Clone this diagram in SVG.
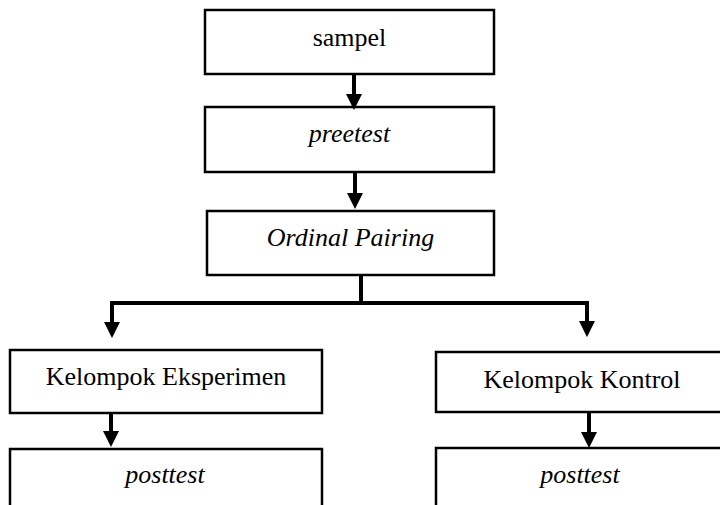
<svg xmlns="http://www.w3.org/2000/svg" width="720" height="505" viewBox="0 0 720 505">
  <defs>
    <style>
      .box { fill: #ffffff; stroke: #000000; stroke-width: 2.5; }
      .lbl { font-family: "Liberation Serif", "Times New Roman", serif; font-size: 26px; fill: #000000; text-anchor: middle; }
      .it { font-style: italic; }
      .wire { fill: none; stroke: #000000; stroke-width: 4; }
    </style>
    <!-- arrowhead: base sits at the line end, tip points onward -->
    <marker id="head" viewBox="0 0 16 16" refX="0" refY="8" markerWidth="16" markerHeight="16" markerUnits="userSpaceOnUse" orient="auto">
      <path d="M0,0 L16,8 L0,16 Z" fill="#000000"/>
    </marker>
  </defs>
  <rect width="720" height="505" fill="#ffffff"/>

  <g id="sampel">
    <rect class="box" x="205" y="10" width="289" height="64"/>
    <text class="lbl" x="349.5" y="46">sampel</text>
  </g>

  <g id="preetest">
    <rect class="box" x="205" y="107" width="289" height="65"/>
    <text class="lbl it" x="349.5" y="142">preetest</text>
  </g>

  <g id="ordinal-pairing">
    <rect class="box" x="207" y="211" width="287" height="64"/>
    <text class="lbl it" x="350.5" y="246">Ordinal Pairing</text>
  </g>

  <g id="kelompok-eksperimen">
    <rect class="box" x="10" y="350" width="312" height="63"/>
    <text class="lbl" x="166" y="385">Kelompok Eksperimen</text>
  </g>

  <g id="kelompok-kontrol">
    <rect class="box" x="436" y="352" width="300" height="60"/>
    <text class="lbl" x="582" y="388">Kelompok Kontrol</text>
  </g>

  <g id="posttest-eksperimen">
    <rect class="box" x="10" y="449" width="312" height="80"/>
    <text class="lbl it" x="165" y="483">posttest</text>
  </g>

  <g id="posttest-kontrol">
    <rect class="box" x="436" y="448" width="300" height="80"/>
    <text class="lbl it" x="580" y="483">posttest</text>
  </g>

  <g id="connectors">
    <line class="wire" x1="354" y1="74" x2="354" y2="94" marker-end="url(#head)"/>
    <line class="wire" x1="355" y1="172" x2="355" y2="193" marker-end="url(#head)"/>
    <line class="wire" x1="361" y1="275" x2="361" y2="303"/>
    <polyline class="wire" points="112,322 112,303 587,303 587,321" stroke-linejoin="miter"/>
    <line class="wire" x1="112" y1="322" x2="112" y2="322.1" marker-end="url(#head)"/>
    <line class="wire" x1="587" y1="321" x2="587" y2="321.1" marker-end="url(#head)"/>
    <line class="wire" x1="111" y1="413" x2="111" y2="431" marker-end="url(#head)"/>
    <line class="wire" x1="589" y1="412" x2="589" y2="432" marker-end="url(#head)"/>
  </g>
</svg>
